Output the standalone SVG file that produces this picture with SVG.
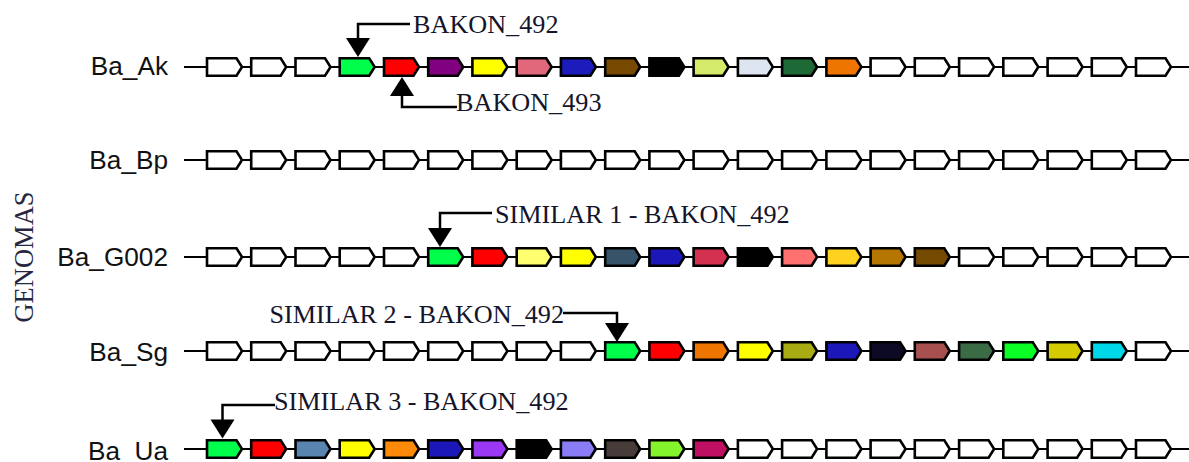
<svg xmlns="http://www.w3.org/2000/svg" xmlns:xlink="http://www.w3.org/1999/xlink" width="1189" height="462" viewBox="0 0 1189 462">
  <style>
    .bg { fill: #ffffff; }
    .axis { stroke: #000; stroke-width: 2; fill: none; }
    .gene { stroke: #000; stroke-width: 2.6; stroke-linejoin: miter; }
    .name { font-family: "Liberation Sans", Arial, sans-serif; font-size: 26.2px; fill: #111; text-anchor: end; }
    .title { font-family: "Liberation Serif", "Times New Roman", serif; font-size: 26.5px; fill: #262640; text-anchor: middle; }
    .note { font-family: "Liberation Serif", "Times New Roman", serif; font-size: 26.2px; fill: #14142a; }
    .lead { stroke: #000; stroke-width: 2.5; fill: none; }
    .head { fill: #000; }
  </style>
  <defs>
    <!-- one gene arrow, anchored at its left edge on the row axis -->
    <path id="g" d="M0,-8.7 H29.5 L35,0 L29.5,8.7 H0 Z"/>
  </defs>

  <rect class="bg" x="0" y="0" width="1189" height="462"/>

  <text class="title" transform="translate(33,257) rotate(-90)">GENOMAS</text>

  <!-- Ba_Ak -->
  <g id="row-ba-ak">
    <text class="name" x="168" y="75">Ba_Ak</text>
    <line class="axis" x1="184" y1="67" x2="1189" y2="67"/>
    <g class="gene" transform="translate(0,67)">
      <use href="#g" x="207.0" fill="#fff"/>
      <use href="#g" x="251.2" fill="#fff"/>
      <use href="#g" x="295.5" fill="#fff"/>
      <use href="#g" x="339.7" fill="#00ff4a"/>
      <use href="#g" x="384.0" fill="#ff0000"/>
      <use href="#g" x="428.2" fill="#800080"/>
      <use href="#g" x="472.4" fill="#ffff00"/>
      <use href="#g" x="516.7" fill="#e0687a"/>
      <use href="#g" x="560.9" fill="#1c1cbc"/>
      <use href="#g" x="605.2" fill="#774800"/>
      <use href="#g" x="649.4" fill="#000000"/>
      <use href="#g" x="693.6" fill="#d4ea6a"/>
      <use href="#g" x="737.9" fill="#dde5f0"/>
      <use href="#g" x="782.1" fill="#1e6a36"/>
      <use href="#g" x="826.4" fill="#ee7600"/>
      <use href="#g" x="870.6" fill="#fff"/>
      <use href="#g" x="914.8" fill="#fff"/>
      <use href="#g" x="959.1" fill="#fff"/>
      <use href="#g" x="1003.3" fill="#fff"/>
      <use href="#g" x="1047.6" fill="#fff"/>
      <use href="#g" x="1091.8" fill="#fff"/>
      <use href="#g" x="1136.0" fill="#fff"/>
    </g>
  </g>

  <!-- Ba_Bp -->
  <g id="row-ba-bp">
    <text class="name" x="168" y="169">Ba_Bp</text>
    <line class="axis" x1="184" y1="160" x2="1189" y2="160"/>
    <g class="gene" transform="translate(0,160)" fill="#fff">
      <use href="#g" x="207.0"/>
      <use href="#g" x="251.2"/>
      <use href="#g" x="295.5"/>
      <use href="#g" x="339.7"/>
      <use href="#g" x="384.0"/>
      <use href="#g" x="428.2"/>
      <use href="#g" x="472.4"/>
      <use href="#g" x="516.7"/>
      <use href="#g" x="560.9"/>
      <use href="#g" x="605.2"/>
      <use href="#g" x="649.4"/>
      <use href="#g" x="693.6"/>
      <use href="#g" x="737.9"/>
      <use href="#g" x="782.1"/>
      <use href="#g" x="826.4"/>
      <use href="#g" x="870.6"/>
      <use href="#g" x="914.8"/>
      <use href="#g" x="959.1"/>
      <use href="#g" x="1003.3"/>
      <use href="#g" x="1047.6"/>
      <use href="#g" x="1091.8"/>
      <use href="#g" x="1136.0"/>
    </g>
  </g>

  <!-- Ba_G002 -->
  <g id="row-ba-g002">
    <text class="name" x="168" y="266">Ba_G002</text>
    <line class="axis" x1="184" y1="257" x2="1189" y2="257"/>
    <g class="gene" transform="translate(0,257)">
      <use href="#g" x="207.0" fill="#fff"/>
      <use href="#g" x="251.2" fill="#fff"/>
      <use href="#g" x="295.5" fill="#fff"/>
      <use href="#g" x="339.7" fill="#fff"/>
      <use href="#g" x="384.0" fill="#fff"/>
      <use href="#g" x="428.2" fill="#00ff4a"/>
      <use href="#g" x="472.4" fill="#ff0000"/>
      <use href="#g" x="516.7" fill="#ffff70"/>
      <use href="#g" x="560.9" fill="#ffff00"/>
      <use href="#g" x="605.2" fill="#37536a"/>
      <use href="#g" x="649.4" fill="#1c17b8"/>
      <use href="#g" x="693.6" fill="#d4304f"/>
      <use href="#g" x="737.9" fill="#000000"/>
      <use href="#g" x="782.1" fill="#ff7070"/>
      <use href="#g" x="826.4" fill="#ffd21f"/>
      <use href="#g" x="870.6" fill="#b47600"/>
      <use href="#g" x="914.8" fill="#744a00"/>
      <use href="#g" x="959.1" fill="#fff"/>
      <use href="#g" x="1003.3" fill="#fff"/>
      <use href="#g" x="1047.6" fill="#fff"/>
      <use href="#g" x="1091.8" fill="#fff"/>
      <use href="#g" x="1136.0" fill="#fff"/>
    </g>
  </g>

  <!-- Ba_Sg -->
  <g id="row-ba-sg">
    <text class="name" x="168" y="361">Ba_Sg</text>
    <line class="axis" x1="184" y1="351" x2="1189" y2="351"/>
    <g class="gene" transform="translate(0,351)">
      <use href="#g" x="207.0" fill="#fff"/>
      <use href="#g" x="251.2" fill="#fff"/>
      <use href="#g" x="295.5" fill="#fff"/>
      <use href="#g" x="339.7" fill="#fff"/>
      <use href="#g" x="384.0" fill="#fff"/>
      <use href="#g" x="428.2" fill="#fff"/>
      <use href="#g" x="472.4" fill="#fff"/>
      <use href="#g" x="516.7" fill="#fff"/>
      <use href="#g" x="560.9" fill="#fff"/>
      <use href="#g" x="605.2" fill="#00ff4a"/>
      <use href="#g" x="649.4" fill="#ff0000"/>
      <use href="#g" x="693.6" fill="#ee7600"/>
      <use href="#g" x="737.9" fill="#ffff00"/>
      <use href="#g" x="782.1" fill="#a8ab12"/>
      <use href="#g" x="826.4" fill="#1c17b8"/>
      <use href="#g" x="870.6" fill="#0c0a24"/>
      <use href="#g" x="914.8" fill="#a84f4f"/>
      <use href="#g" x="959.1" fill="#3a6b45"/>
      <use href="#g" x="1003.3" fill="#0cff25"/>
      <use href="#g" x="1047.6" fill="#d4cb00"/>
      <use href="#g" x="1091.8" fill="#00d7e8"/>
      <use href="#g" x="1136.0" fill="#fff"/>
    </g>
  </g>

  <!-- Ba_Ua -->
  <g id="row-ba-ua">
    <text class="name" x="168" y="460">Ba_Ua</text>
    <line class="axis" x1="184" y1="449" x2="1189" y2="449"/>
    <g class="gene" transform="translate(0,449)">
      <use href="#g" x="207.0" fill="#00ff4a"/>
      <use href="#g" x="251.2" fill="#ff0000"/>
      <use href="#g" x="295.5" fill="#5a84b0"/>
      <use href="#g" x="339.7" fill="#ffff00"/>
      <use href="#g" x="384.0" fill="#ff8a0a"/>
      <use href="#g" x="428.2" fill="#1c17b8"/>
      <use href="#g" x="472.4" fill="#9a38f5"/>
      <use href="#g" x="516.7" fill="#000000"/>
      <use href="#g" x="560.9" fill="#8a7cf5"/>
      <use href="#g" x="605.2" fill="#483c3a"/>
      <use href="#g" x="649.4" fill="#84f52c"/>
      <use href="#g" x="693.6" fill="#bf0f63"/>
      <use href="#g" x="737.9" fill="#fff"/>
      <use href="#g" x="782.1" fill="#fff"/>
      <use href="#g" x="826.4" fill="#fff"/>
      <use href="#g" x="870.6" fill="#fff"/>
      <use href="#g" x="914.8" fill="#fff"/>
      <use href="#g" x="959.1" fill="#fff"/>
      <use href="#g" x="1003.3" fill="#fff"/>
      <use href="#g" x="1047.6" fill="#fff"/>
      <use href="#g" x="1091.8" fill="#fff"/>
      <use href="#g" x="1136.0" fill="#fff"/>
    </g>
  </g>

  <!-- callout leaders pointing at the labelled genes -->
  <g id="connectors">
    <path class="lead" d="M410,24 H358 V40"/>
    <polygon class="head" points="346,38 370,38 358,57"/>

    <path class="lead" d="M457,107 H402 V94"/>
    <polygon class="head" points="390,96 414,96 402,77"/>

    <path class="lead" d="M492,213 H440 V230"/>
    <polygon class="head" points="428,228 452,228 440,247"/>

    <path class="lead" d="M563,313 H617 V325"/>
    <polygon class="head" points="605,323 629,323 617,342"/>

    <path class="lead" d="M275,405 H222.5 V422"/>
    <polygon class="head" points="210.5,419.5 234.5,419.5 222.5,438.5"/>
  </g>

  <g id="callout-labels">
    <text class="note" x="413" y="33">BAKON_492</text>
    <text class="note" x="456" y="111">BAKON_493</text>
    <text class="note" x="495" y="223">SIMILAR 1 - BAKON_492</text>
    <text class="note" x="564" y="323" text-anchor="end">SIMILAR 2 - BAKON_492</text>
    <text class="note" x="274" y="410">SIMILAR 3 - BAKON_492</text>
  </g>
</svg>
